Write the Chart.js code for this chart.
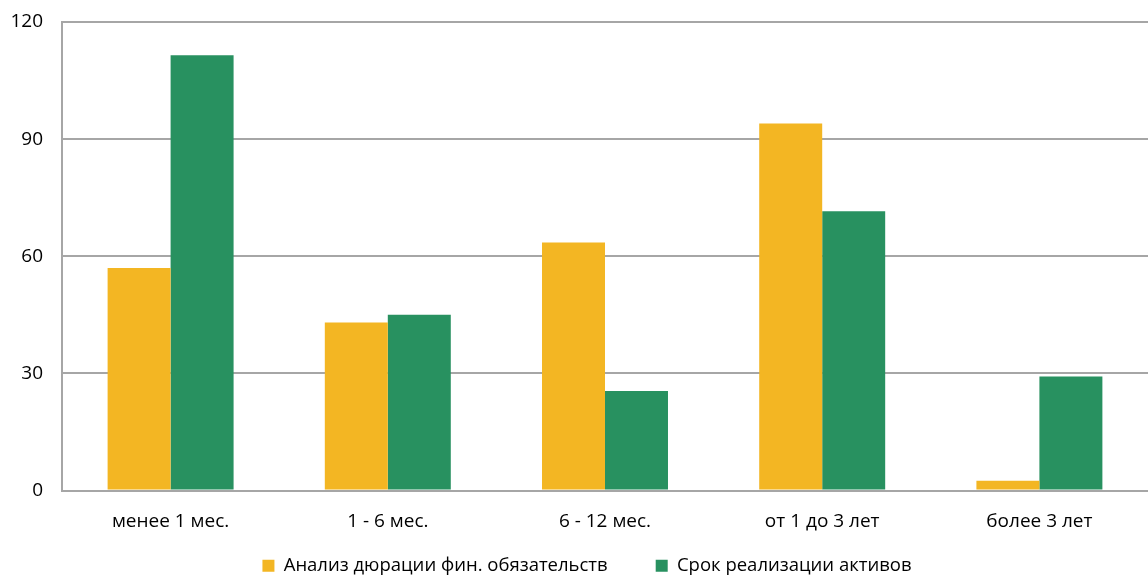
<!DOCTYPE html>
<html>
<head>
<meta charset="utf-8">
<script src="https://cdn.jsdelivr.net/npm/chart.js@4/dist/chart.umd.min.js"></script>
<style>
  html, body { margin: 0; padding: 0; background: #fff; }
  #wrap { width: 1148px; height: 579px; }
</style>
</head>
<body>
<div id="wrap"><canvas id="graph1" width="1148" height="579"></canvas></div>
<script>
// データ
var labels = ['менее 1 мес.', '1 - 6 мес.', '6 - 12 мес.', 'от 1 до 3 лет', 'более 3 лет'];
var seriesNames = ['Анализ дюрации фин. обязательств', 'Срок реализации активов'];
var duration = [57, 43, 63.5, 94, 2.5];
var assets = [111.5, 45, 25.5, 71.5, 29.2];
var yTicks = [0, 30, 60, 90, 120];

var col = ['#F3B623', '#289160'];
var legendPad = 48;

// 凡例の位置を固定する
var legendSpot = {
  id: 'legendSpot',
  afterLayout: function(chart) {
    var lg = chart.legend;
    var h = lg.height;
    lg.top = 566 - 9.5 - legendPad;
    lg.bottom = lg.top + h;
    lg.left -= 18;
    lg.right -= 18;
  }
};

document.addEventListener('DOMContentLoaded', function() {
  Chart.defaults.font.family = "'Open Sans', 'Liberation Sans', sans-serif";
  Chart.defaults.font.size = 19;
  Chart.defaults.color = '#000';

  var ctx = document.querySelector('#graph1').getContext('2d');
  var chart = new Chart(ctx, {
    type: 'bar',
    data: {
      labels: labels,
      datasets: [{
        label: seriesNames[0],
        data: duration,
        backgroundColor: col[0],
        borderWidth: 0,
        categoryPercentage: 0.58,
        barPercentage: 1.0
      }, {
        label: seriesNames[1],
        data: assets,
        backgroundColor: col[1],
        borderWidth: 0,
        categoryPercentage: 0.58,
        barPercentage: 1.0
      }]
    },
    plugins: [legendSpot],
    options: {
      responsive: false,
      animation: false,
      layout: { padding: { top: 0, left: 0, right: 0, bottom: -48 } },
      plugins: {
        legend: {
          position: 'bottom',
          fullSize: false,
          labels: {
            boxWidth: 12,
            boxHeight: 12,
            padding: legendPad,
            font: { size: 18.5 }
          }
        },
        tooltip: { enabled: false }
      },
      scales: {
        x: {
          afterFit: function(axis) { axis.height = 60; },
          grid: { display: false },
          border: { color: '#a6a6a6', width: 2 },
          ticks: { padding: 12, font: { size: 19 } }
        },
        y: {
          min: 0,
          max: 120,
          afterBuildTicks: function(axis) {
            axis.ticks = yTicks.map(function(v) { return { value: v }; });
          },
          afterFit: function(axis) {
            axis.width = 62;
            axis.paddingTop = 22;
            axis.paddingBottom = 0;
          },
          grid: { color: '#a6a6a6', lineWidth: 2, drawTicks: false },
          border: { color: '#a6a6a6', width: 2 },
          ticks: { padding: 19, font: { size: 19 } }
        }
      }
    }
  });
});
</script>
</body>
</html>
